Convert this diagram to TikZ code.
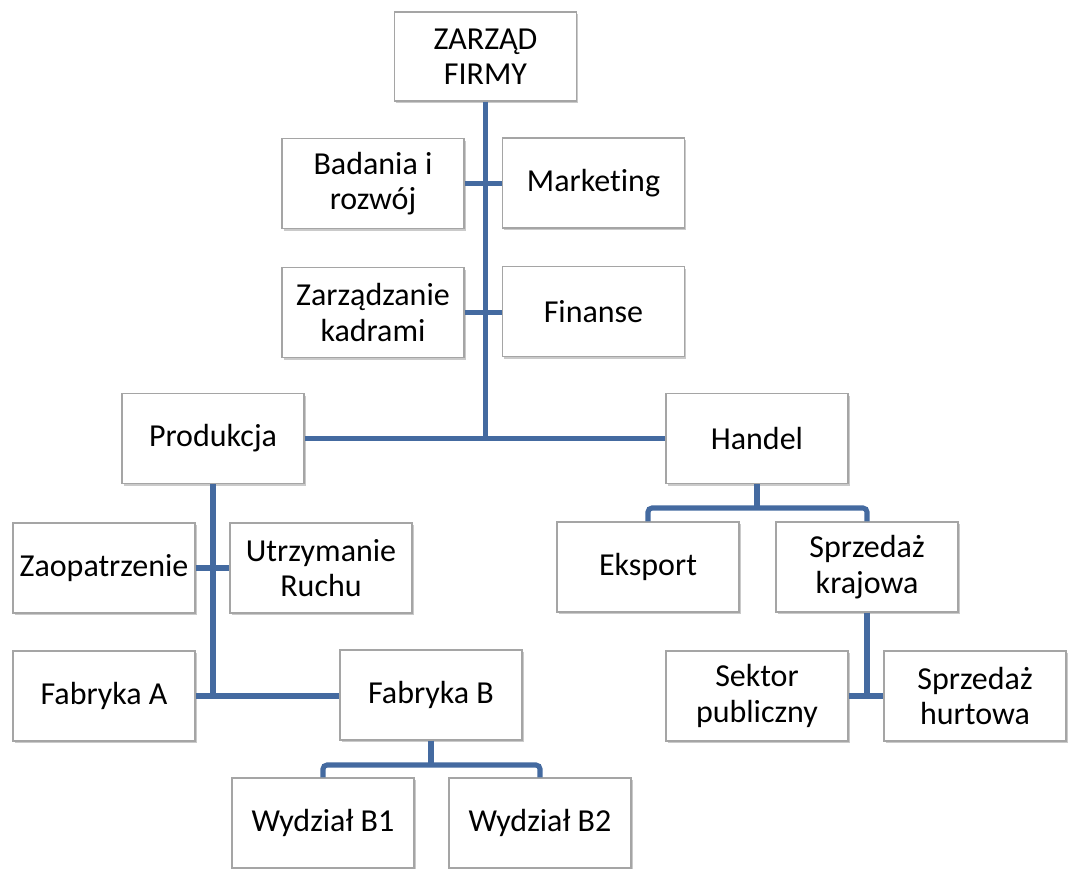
\documentclass[tikz,border=0pt]{standalone}
\usepackage{fontspec}
\setmainfont{Carlito}[Ligatures={NoCommon}]
\usetikzlibrary{shadows}
\definecolor{linkblue}{RGB}{68,106,160}
\definecolor{boxedge}{RGB}{165,165,165}
\begin{document}
\begin{tikzpicture}[x=0.75pt,y=-0.75pt,
  orgbox/.style={draw=boxedge, line width=0.9pt, fill=white,
    minimum width=136.5pt, minimum height=67.5pt, inner sep=1pt,
    align=center, font=\fontsize{24}{26.5}\selectfont,
    drop shadow={shadow xshift=1.2pt, shadow yshift=-1.5pt, opacity=0.35, fill=black!60}},
  link/.style={draw=linkblue, line width=3.8pt},
  bus/.style={draw=linkblue, line width=3.8pt, rounded corners=3pt}]
\useasboundingbox (0,0) rectangle (1069,868);
\node[orgbox, minimum height=66.75pt] (zarzad) at (485.5,56.5) {ZARZĄD\\FIRMY};
\node[orgbox] (badania) at (373,183.5) {Badania i\\rozwój};
\node[orgbox] (marketing) at (593.5,183) {Marketing};
\node[orgbox] (kadry) at (373,312.5) {Zarządzanie\\kadrami};
\node[orgbox] (finanse) at (593.5,311.5) {Finanse};
\node[orgbox] (produkcja) at (213,438.5) {Produkcja};
\node[orgbox] (handel) at (757,438.5) {Handel};
\node[orgbox] (zaop) at (104,568) {Zaopatrzenie};
\node[orgbox] (utrzym) at (321,568) {Utrzymanie\\Ruchu};
\node[orgbox] (fabA) at (104,696) {Fabryka A};
\node[orgbox] (fabB) at (431,695) {Fabryka B};
\node[orgbox] (wB1) at (323,823) {Wydział B1};
\node[orgbox] (wB2) at (540,823) {Wydział B2};
\node[orgbox] (eksport) at (648,567) {Eksport};
\node[orgbox] (krajowa) at (867,567) {Sprzedaż\\krajowa};
\node[orgbox] (sektor) at (757,696) {Sektor\\publiczny};
\node[orgbox] (hurtowa) at (975,696) {Sprzedaż\\hurtowa};

% connectors
\draw[link] (zarzad.south) -- (zarzad.south |- produkcja.east);
\draw[link] (badania.east) -- (marketing.west |- badania.east);
\draw[link] (kadry.east) -- (finanse.west |- kadry.east);
\draw[link] (produkcja.east) -- (handel.west);
\draw[link] (produkcja.south) -- (produkcja.south |- fabA.east);
\draw[link] (zaop.east) -- (utrzym.west |- zaop.east);
\draw[link] (fabA.east) -- (fabB.west |- fabA.east);
\coordinate (busB) at (431,765);
\draw[link] (fabB.south) -- (busB);
\draw[bus] (wB1.north) |- (busB) -| (wB2.north);
\coordinate (busH) at (757,508);
\draw[link] (handel.south) -- (busH);
\draw[bus] (eksport.north) |- (busH) -| (krajowa.north);
\draw[link] (krajowa.south) -- (krajowa.south |- sektor.east);
\draw[link] (sektor.east) -- (hurtowa.west);
\end{tikzpicture}
\end{document}
